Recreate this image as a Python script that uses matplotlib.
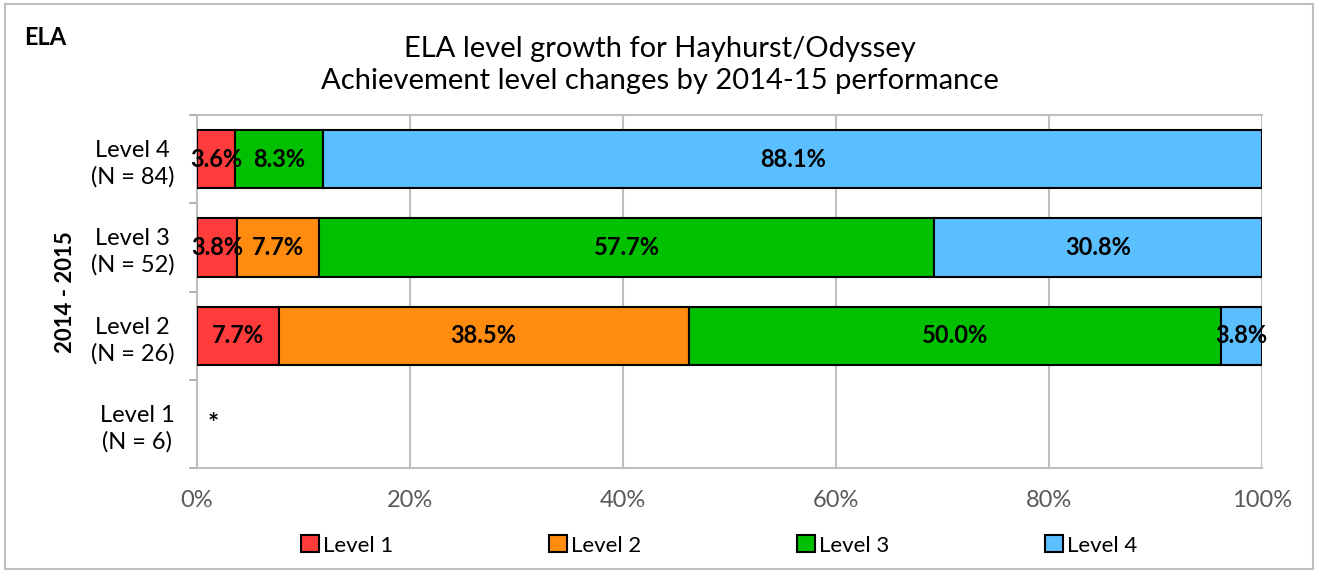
import numpy as np
import matplotlib.pyplot as plt
from matplotlib.patches import Rectangle

plt.rcParams['font.family'] = ['Lato', 'DejaVu Sans']

rows = ["Level 1\n(N = 6)", "Level 2\n(N = 26)", "Level 3\n(N = 52)", "Level 4\n(N = 84)"]
series = ["Level 1", "Level 2", "Level 3", "Level 4"]
colors = ["#FF3B3B", "#FF8C0F", "#00C000", "#5BBFFF"]
# percentages per 2014-15 level (rows) for each 2015-16 level (series)
lvl1 = [0.0, 7.7, 3.8, 3.6]
lvl2 = [0.0, 38.5, 7.7, 0.0]
lvl3 = [0.0, 50.0, 57.7, 8.3]
lvl4 = [0.0, 3.8, 30.8, 88.1]
values = [lvl1, lvl2, lvl3, lvl4]

fig = plt.figure(figsize=(13.2, 5.73), dpi=100)
ax = fig.add_axes([0.149, 0.183, 0.807, 0.616])

y = np.arange(len(rows))
left = np.zeros(len(rows))
for name, vals, c in zip(series, values, colors):
    vals = np.array(vals)
    m = vals > 0
    ax.barh(y[m], vals[m], left=left[m], height=0.66, color=c, edgecolor="black",
            linewidth=1.5, label=name, zorder=3)
    for yi, v, l in zip(y[m], vals[m], left[m]):
        ax.text(l + v / 2, yi, f"{v:.1f}%", ha="center", va="center",
                fontsize=17, fontweight="bold", zorder=4)
    left += vals

ax.text(1.6, 0, "*", ha="center", va="center", fontsize=19, fontweight="bold")

ax.set_xlim(0, 100)
ax.set_ylim(-0.5, 3.5)
ax.set_xticks(np.arange(0, 101, 20))
ax.set_xticklabels([f"{t}%" for t in range(0, 101, 20)], color="#595959", fontsize=17)
ax.set_yticks(y)
ax.set_yticklabels(rows, fontsize=17, linespacing=1.3, multialignment="center")
ax.set_yticks(np.arange(-0.5, 3.6, 1), minor=True)
ax.tick_params(axis="y", which="major", length=0, pad=16)
ax.tick_params(axis="y", which="minor", length=6, color="#A6A6A6", width=1.2)
ax.tick_params(axis="x", length=0, pad=16)
ax.grid(axis="x", color="#BFBFBF", linewidth=1.5, zorder=0)
for s in ax.spines.values():
    s.set_color("#BFBFBF")
    s.set_linewidth(1.5)
ax.spines["right"].set_visible(False)
ax.set_ylabel("2014 - 2015", fontsize=16, fontweight="bold", labelpad=11)

fig.text(0.5, 0.886, "ELA level growth for Hayhurst/Odyssey\nAchievement level changes by 2014-15 performance",
         ha="center", va="center", fontsize=21, linespacing=1.3)
fig.text(0.018, 0.935, "ELA", fontsize=17, fontweight="bold", va="center")

fig.legend(loc="center", bbox_to_anchor=(0.545, 0.048), ncol=4, frameon=False,
           fontsize=16, handlelength=0.8, handleheight=0.8, handletextpad=0.2,
           columnspacing=7.0)

fig.patches.append(Rectangle((0.004, 0.007), 0.991, 0.986, transform=fig.transFigure,
                             fill=False, edgecolor="#BFBFBF", linewidth=1.5))

fig.savefig("out.png", dpi=100)
